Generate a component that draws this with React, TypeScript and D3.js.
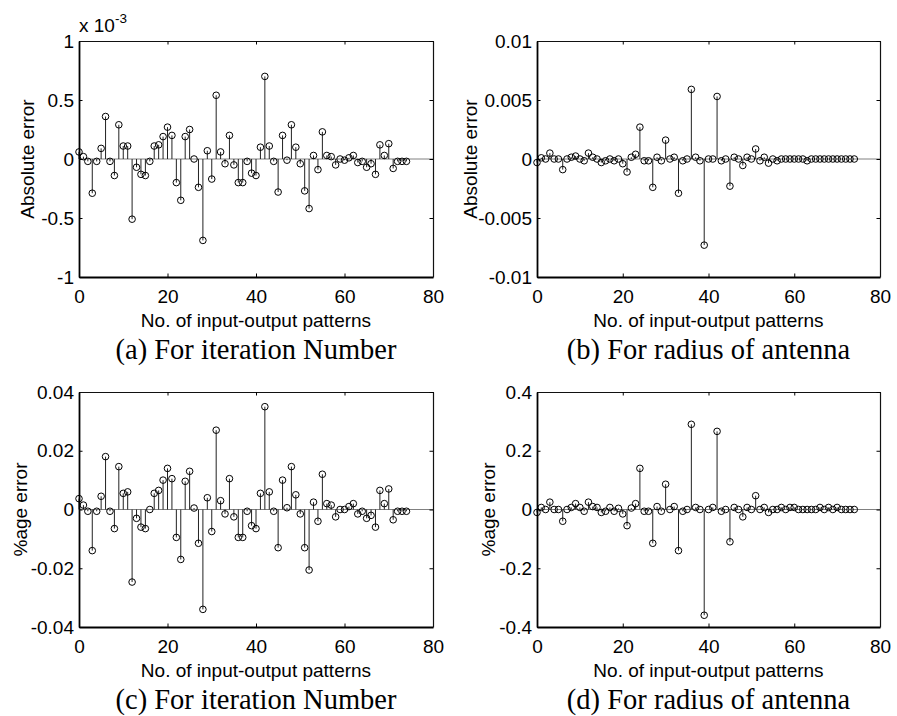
import React, { useEffect, useRef } from "react";
import * as d3 from "d3";

// pattern index on the x axis
const patterns = d3.range(0, 75);
const xTicks = [0, 20, 40, 60, 80];

// (a) absolute error, iteration number (in units of 1e-3)
const absIterE3 = [
  0.06, 0.02, -0.02, -0.29, -0.02, 0.09, 0.36, -0.02, -0.14, 0.29,
  0.11, 0.11, -0.51, -0.07, -0.13, -0.14, -0.02, 0.11, 0.12, 0.19,
  0.27, 0.2, -0.2, -0.35, 0.19, 0.25, 0.0, -0.24, -0.69, 0.07,
  -0.17, 0.54, 0.06, -0.04, 0.2, -0.05, -0.2, -0.2, -0.02, -0.12,
  -0.14, 0.1, 0.7, 0.11, -0.02, -0.28, 0.2, -0.01, 0.29, 0.1,
  -0.04, -0.27, -0.42, 0.03, -0.09, 0.23, 0.03, 0.02, -0.05, 0.0,
  -0.01, 0.01, 0.03, -0.03, -0.02, -0.07, -0.04, -0.13, 0.12, 0.03,
  0.13, -0.08, -0.02, -0.02, -0.02,
];

// (b) absolute error, radius of antenna
const absRad = [
  -0.0003, 0.0001, 0.0, 0.0005, 0.0, 0.0, -0.0009, 0.0, 0.00015, 0.00025,
  0.0, -0.00015, 0.0005, 0.00015, 0.0, -0.0003, -0.00015, 0.0, -0.00015, 0.0,
  -0.0004, -0.0011, 0.00015, 0.0004, 0.0027, -0.00015, -0.00015, -0.0024, 0.00015, -0.00015,
  0.0016, 0.0, 0.00015, -0.0029, -0.00015, 0.0, 0.0059, 0.00015, -0.00015, -0.0073,
  0.0, 0.0, 0.0053, -0.00015, 0.0, -0.0023, 0.00015, 0.0, -0.00055, 0.00015,
  0.0, 0.00085, -0.00015, 0.00015, -0.00035, 0.0, -0.00015, 0.0, 0.0, 0.0,
  0.0, 0.0, 0.0, -0.00015, 0.0, 0.0, 0.0, 0.0, 0.0, 0.0,
  0.0, 0.0, 0.0, 0.0, 0.0,
];

// (c) percentage error, iteration number
const pctIter = [
  0.0037, 0.0015, -0.0006, -0.014, -0.0006, 0.0045, 0.018, -0.0006, -0.0065, 0.0146,
  0.0055, 0.006, -0.0247, -0.003, -0.006, -0.0065, 0.0, 0.0055, 0.0065, 0.01,
  0.014, 0.0105, -0.0095, -0.017, 0.0096, 0.013, 0.0005, -0.0115, -0.034, 0.004,
  -0.0075, 0.027, 0.003, -0.0015, 0.0105, -0.0025, -0.0095, -0.0095, -0.0006, -0.0055,
  -0.0065, 0.0055, 0.035, 0.006, -0.0006, -0.013, 0.01, 0.0006, 0.0146, 0.005,
  -0.0015, -0.013, -0.0206, 0.0025, -0.004, 0.012, 0.002, 0.0015, -0.0025, 0.0,
  0.0, 0.001, 0.002, -0.0015, -0.0006, -0.003, -0.002, -0.006, 0.0065, 0.002,
  0.007, -0.0035, -0.0006, -0.0006, -0.0006,
];

// (d) percentage error, radius of antenna
const pctRad = [
  -0.01, 0.007, 0.0, 0.025, 0.0, 0.0, -0.04, 0.0, 0.007, 0.02,
  0.007, -0.006, 0.025, 0.01, 0.007, -0.01, -0.006, 0.007, -0.006, 0.004,
  -0.015, -0.055, 0.005, 0.02, 0.14, -0.006, -0.006, -0.115, 0.01, -0.006,
  0.086, 0.0, 0.01, -0.14, -0.006, 0.0, 0.29, 0.007, 0.0, -0.36,
  0.0, 0.007, 0.266, -0.006, 0.0, -0.11, 0.007, 0.0, -0.025, 0.007,
  0.0, 0.047, 0.0, 0.007, -0.01, 0.0, 0.0, 0.007, 0.0, 0.007,
  0.007, 0.0, 0.0, 0.0, 0.0, 0.0, 0.007, 0.0, 0.007, 0.0,
  0.007, 0.0, 0.0, 0.0, 0.0,
];

const yTicksA = [-1, -0.5, 0, 0.5, 1];
const yTicksB = [-0.01, -0.005, 0, 0.005, 0.01];
const yTicksC = [-0.04, -0.02, 0, 0.02, 0.04];
const yTicksD = [-0.4, -0.2, 0, 0.2, 0.4];

const xLabel = "No. of input-output patterns";
const captions = [
  "(a) For iteration Number",
  "(b) For radius of antenna",
  "(c) For iteration Number",
  "(d) For radius of antenna",
];

const SANS = "'Liberation Sans', Arial, Helvetica, sans-serif";
const SERIF = "'Liberation Serif', 'Times New Roman', serif";
const FS = 19;

const App = () => {
  const svgRef = useRef<SVGSVGElement>(null);

  useEffect(() => {
    const svg = d3.select(svgRef.current);
    svg.selectAll("*").remove();

    const panels = [
      { left: 79, right: 433, top: 41, bottom: 277, values: absIterE3, domain: [-1, 1], ticks: yTicksA, ylabel: "Absolute error", labelX: 27, caption: captions[0], exp: true },
      { left: 537, right: 880, top: 41, bottom: 277, values: absRad, domain: [-0.01, 0.01], ticks: yTicksB, ylabel: "Absolute error", labelX: 470, caption: captions[1], exp: false },
      { left: 79, right: 433, top: 392, bottom: 627, values: pctIter, domain: [-0.04, 0.04], ticks: yTicksC, ylabel: "%age error", labelX: 20, caption: captions[2], exp: false },
      { left: 537, right: 880, top: 392, bottom: 627, values: pctRad, domain: [-0.4, 0.4], ticks: yTicksD, ylabel: "%age error", labelX: 488, caption: captions[3], exp: false },
    ];

    panels.forEach((p) => {
      const x = d3.scaleLinear().domain([0, 80]).range([p.left, p.right]);
      const y = d3.scaleLinear().domain(p.domain).range([p.bottom, p.top]);
      const g = svg.append("g");

      // baseline
      g.append("line")
        .attr("x1", p.left)
        .attr("x2", p.right)
        .attr("y1", y(0))
        .attr("y2", y(0))
        .attr("stroke", "#808080")
        .attr("stroke-width", 1);

      // stems
      g.selectAll(".stem")
        .data(p.values)
        .join("line")
        .attr("class", "stem")
        .attr("x1", (d, i) => x(patterns[i]))
        .attr("x2", (d, i) => x(patterns[i]))
        .attr("y1", y(0))
        .attr("y2", (d) => y(d))
        .attr("stroke", "#222")
        .attr("stroke-width", 1);

      // markers
      g.selectAll(".mk")
        .data(p.values)
        .join("circle")
        .attr("class", "mk")
        .attr("cx", (d, i) => x(patterns[i]))
        .attr("cy", (d) => y(d))
        .attr("r", 3.3)
        .attr("fill", "none")
        .attr("stroke", "#000")
        .attr("stroke-width", 1);

      // axes, ticks inward on all sides
      const bottomAxis = g.append("g")
        .attr("transform", `translate(0,${p.bottom})`)
        .call(d3.axisBottom(x).tickValues(xTicks).tickSizeInner(-3.5).tickSizeOuter(0).tickPadding(13).tickFormat((d) => String(d)));
      const leftAxis = g.append("g")
        .attr("transform", `translate(${p.left},0)`)
        .call(d3.axisLeft(y).tickValues(p.ticks).tickSizeInner(-3.5).tickSizeOuter(0).tickPadding(5).tickFormat((d) => String(d)));
      const topAxis = g.append("g")
        .attr("transform", `translate(0,${p.top})`)
        .call(d3.axisTop(x).tickValues(xTicks).tickSizeInner(-3.5).tickSizeOuter(0).tickFormat(() => ""));
      const rightAxis = g.append("g")
        .attr("transform", `translate(${p.right},0)`)
        .call(d3.axisRight(y).tickValues(p.ticks).tickSizeInner(-3.5).tickSizeOuter(0).tickFormat(() => ""));

      [bottomAxis, leftAxis, topAxis, rightAxis].forEach((a) => {
        a.attr("font-size", FS).attr("font-family", SANS);
        a.selectAll("text").attr("fill", "#000");
        a.selectAll("line").attr("stroke", "#000");
      });
      bottomAxis.select(".domain").attr("stroke", "#000").attr("stroke-width", 1.8);
      leftAxis.select(".domain").attr("stroke", "#000").attr("stroke-width", 1.8);
      topAxis.select(".domain").attr("stroke", "#111").attr("stroke-width", 1.2);
      rightAxis.select(".domain").attr("stroke", "#111").attr("stroke-width", 1.2);

      // x label
      g.append("text")
        .attr("x", (p.left + p.right) / 2)
        .attr("y", p.bottom + 50)
        .attr("text-anchor", "middle")
        .attr("font-family", SANS)
        .attr("font-size", FS)
        .text(xLabel);

      // y label
      g.append("text")
        .attr("transform", `translate(${p.labelX},${(p.top + p.bottom) / 2}) rotate(-90)`)
        .attr("text-anchor", "middle")
        .attr("dy", "0.35em")
        .attr("font-family", SANS)
        .attr("font-size", FS)
        .text(p.ylabel);

      // caption
      g.append("text")
        .attr("x", (p.left + p.right) / 2)
        .attr("y", p.bottom + 82)
        .attr("text-anchor", "middle")
        .attr("font-family", SERIF)
        .attr("font-size", 28.5)
        .text(p.caption);

      if (p.exp) {
        const t = g.append("text")
          .attr("x", p.left)
          .attr("y", p.top - 9)
          .attr("font-family", SANS)
          .attr("font-size", FS);
        t.append("tspan").text("x 10");
        t.append("tspan").attr("font-size", 13.5).attr("dy", -9).text("-3");
      }
    });
  }, []);

  return (
    <svg
      ref={svgRef}
      width="897"
      height="716"
      style={{ display: "block", position: "absolute", left: 0, top: 0, background: "#fff" }}
    ></svg>
  );
};

export default App;
